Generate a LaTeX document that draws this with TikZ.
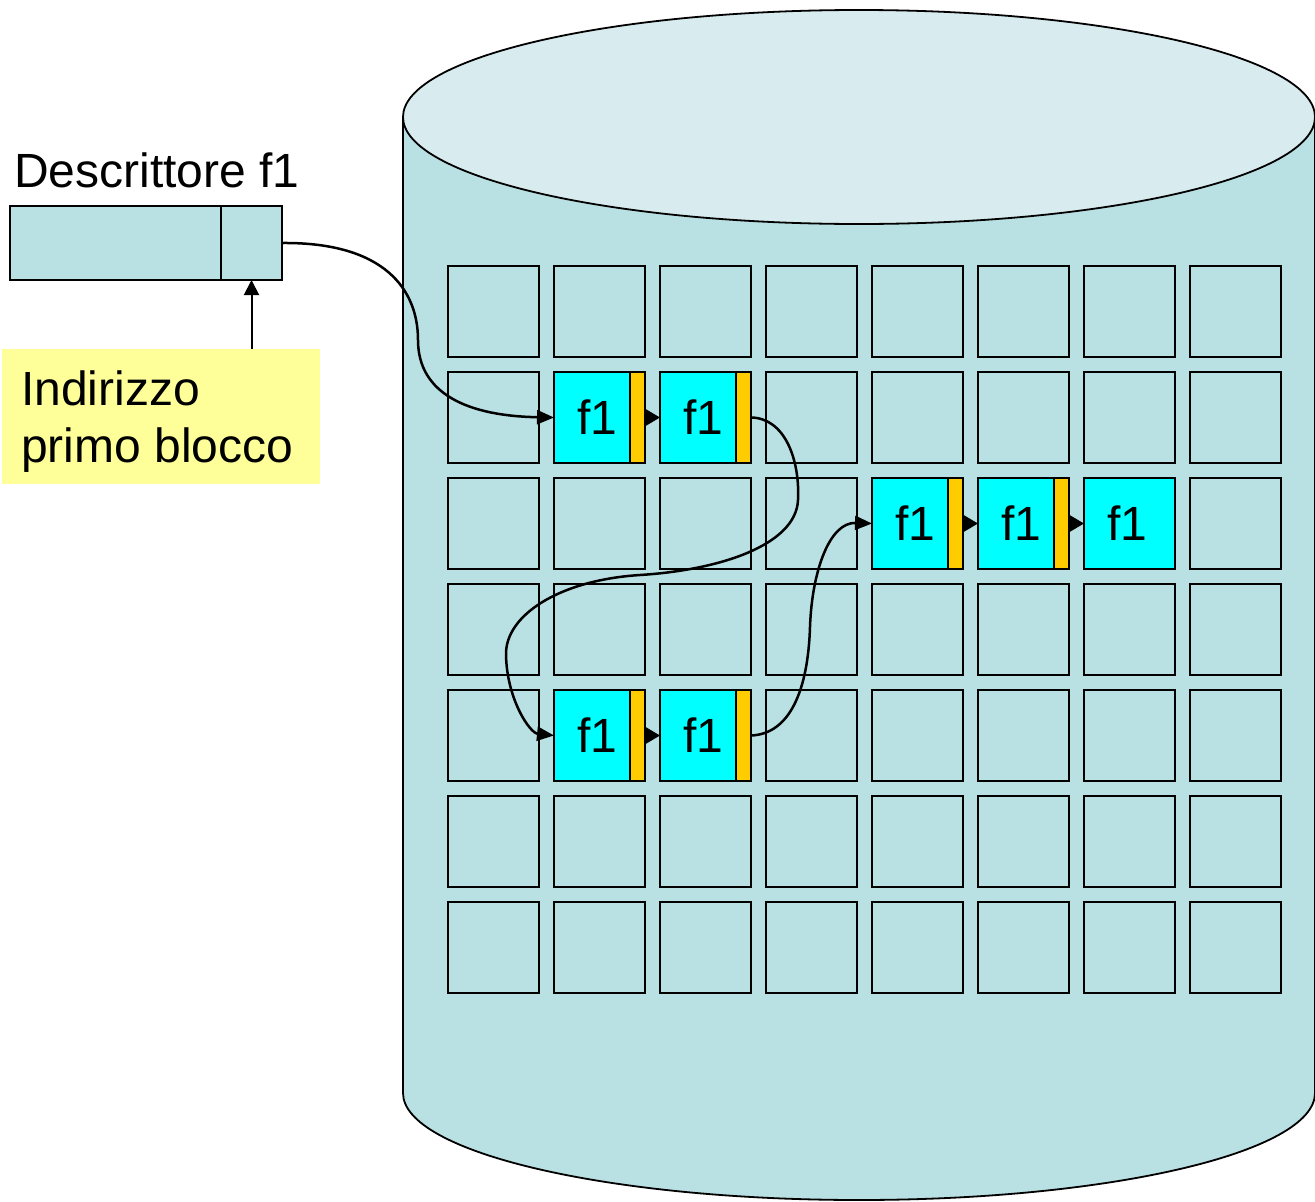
\documentclass[tikz,border=0pt]{standalone}
\usepackage{fontspec}
\setmainfont{Liberation Sans}
\usetikzlibrary{arrows.meta}
\definecolor{body}{RGB}{185,224,227}
\definecolor{topc}{RGB}{216,236,239}
\definecolor{fcyan}{RGB}{0,255,255}
\definecolor{fyel}{RGB}{255,204,0}
\definecolor{notec}{RGB}{255,255,153}
\begin{document}
\begin{tikzpicture}[x=1pt,y=-1pt,
  cell/.style={draw=black,line width=1.8pt,minimum width=91pt,minimum height=91pt,inner sep=0pt,outer sep=0pt},
  bigtext/.style={font=\fontsize{48}{58}\selectfont,inner sep=0pt},
  conn/.style={line width=2.5pt,-{Triangle[length=17pt,width=14pt]}},
  link/.style={line width=2pt,-{Triangle[length=14pt,width=16pt]}},
  dbox/.style={draw=black,fill=body,line width=1.8pt,minimum height=74pt,inner sep=0pt,outer sep=0pt,anchor=north west},
]
\useasboundingbox (0,0) rectangle (1315,1202);
% cylinder
\path[fill=body,draw=black,line width=1.8pt] (403,117) -- (403,1093) arc[start angle=180,end angle=360,x radius=456pt,y radius=107pt] -- (1315,117);
\draw[fill=topc,line width=1.8pt] (859,117) ellipse [x radius=456pt, y radius=107pt];
% grid
\foreach \r in {0,...,6}{\foreach \c in {0,...,7}{
  \node[cell] (c\r\c) at ({493.5+106*\c},{311.5+106*\r}) {};
}}
% f1 cells
\foreach \r/\c in {1/1,1/2,2/4,2/5,2/6,4/1,4/2}{
  \fill[fcyan] (c\r\c.north west) rectangle (c\r\c.south east);
  \draw[line width=1.8pt] (c\r\c.north west) rectangle (c\r\c.south east);
}
\foreach \r/\c in {1/1,1/2,2/4,2/5,4/1,4/2}{
  \draw[fill=fyel,line width=1.8pt] ([xshift=-15pt]c\r\c.north east) rectangle (c\r\c.south east);
}
\foreach \r/\c in {1/1,1/2,2/4,2/5,2/6,4/1,4/2}{
  \node[bigtext] (t\r\c) at ([xshift=-2pt]c\r\c.center) {f1};
}
% links
\draw[link] (c11.east) -- (c12.west);
\draw[link] (c24.east) -- (c25.west);
\draw[link] (c25.east) -- (c26.west);
\draw[link] (c41.east) -- (c42.west);
% descriptor
\node[bigtext,anchor=base west] (title) at (14,187) {Descrittore f1};
\node[dbox,minimum width=211pt] (dL) at (10,206) {};
\node[dbox,minimum width=61pt] (dR) at (221,206) {};
% note
\node[fill=notec,minimum width=318pt,minimum height=135pt,inner sep=0pt,outer sep=0pt,anchor=north west] (nt) at (2,349) {};
\node[bigtext,anchor=base west] (n1) at (21,405) {Indirizzo};
\node[bigtext,anchor=base west] (n2) at (21,462) {primo blocco};
\draw[line width=2pt,-{Triangle[length=15pt,width=15pt]}] (dR.south |- nt.north) -- (dR.south);
% connectors
\draw[conn] (dR.east) .. controls (385,242) and (418,290) .. (418,340) .. controls (418,395) and (470,416) .. (c11.west);
\draw[conn] (c12.east) .. controls (785,418) and (800,460) .. (798,500) .. controls (796,545) and (720,570) .. (640,575) .. controls (560,580) and (505,615) .. (506,655) .. controls (507,700) and (530,733) .. (c41.west);
\draw[conn] (c42.east) .. controls (790,734) and (808,690) .. (810,627) .. controls (812,570) and (830,522) .. (c24.west);
\end{tikzpicture}
\end{document}
